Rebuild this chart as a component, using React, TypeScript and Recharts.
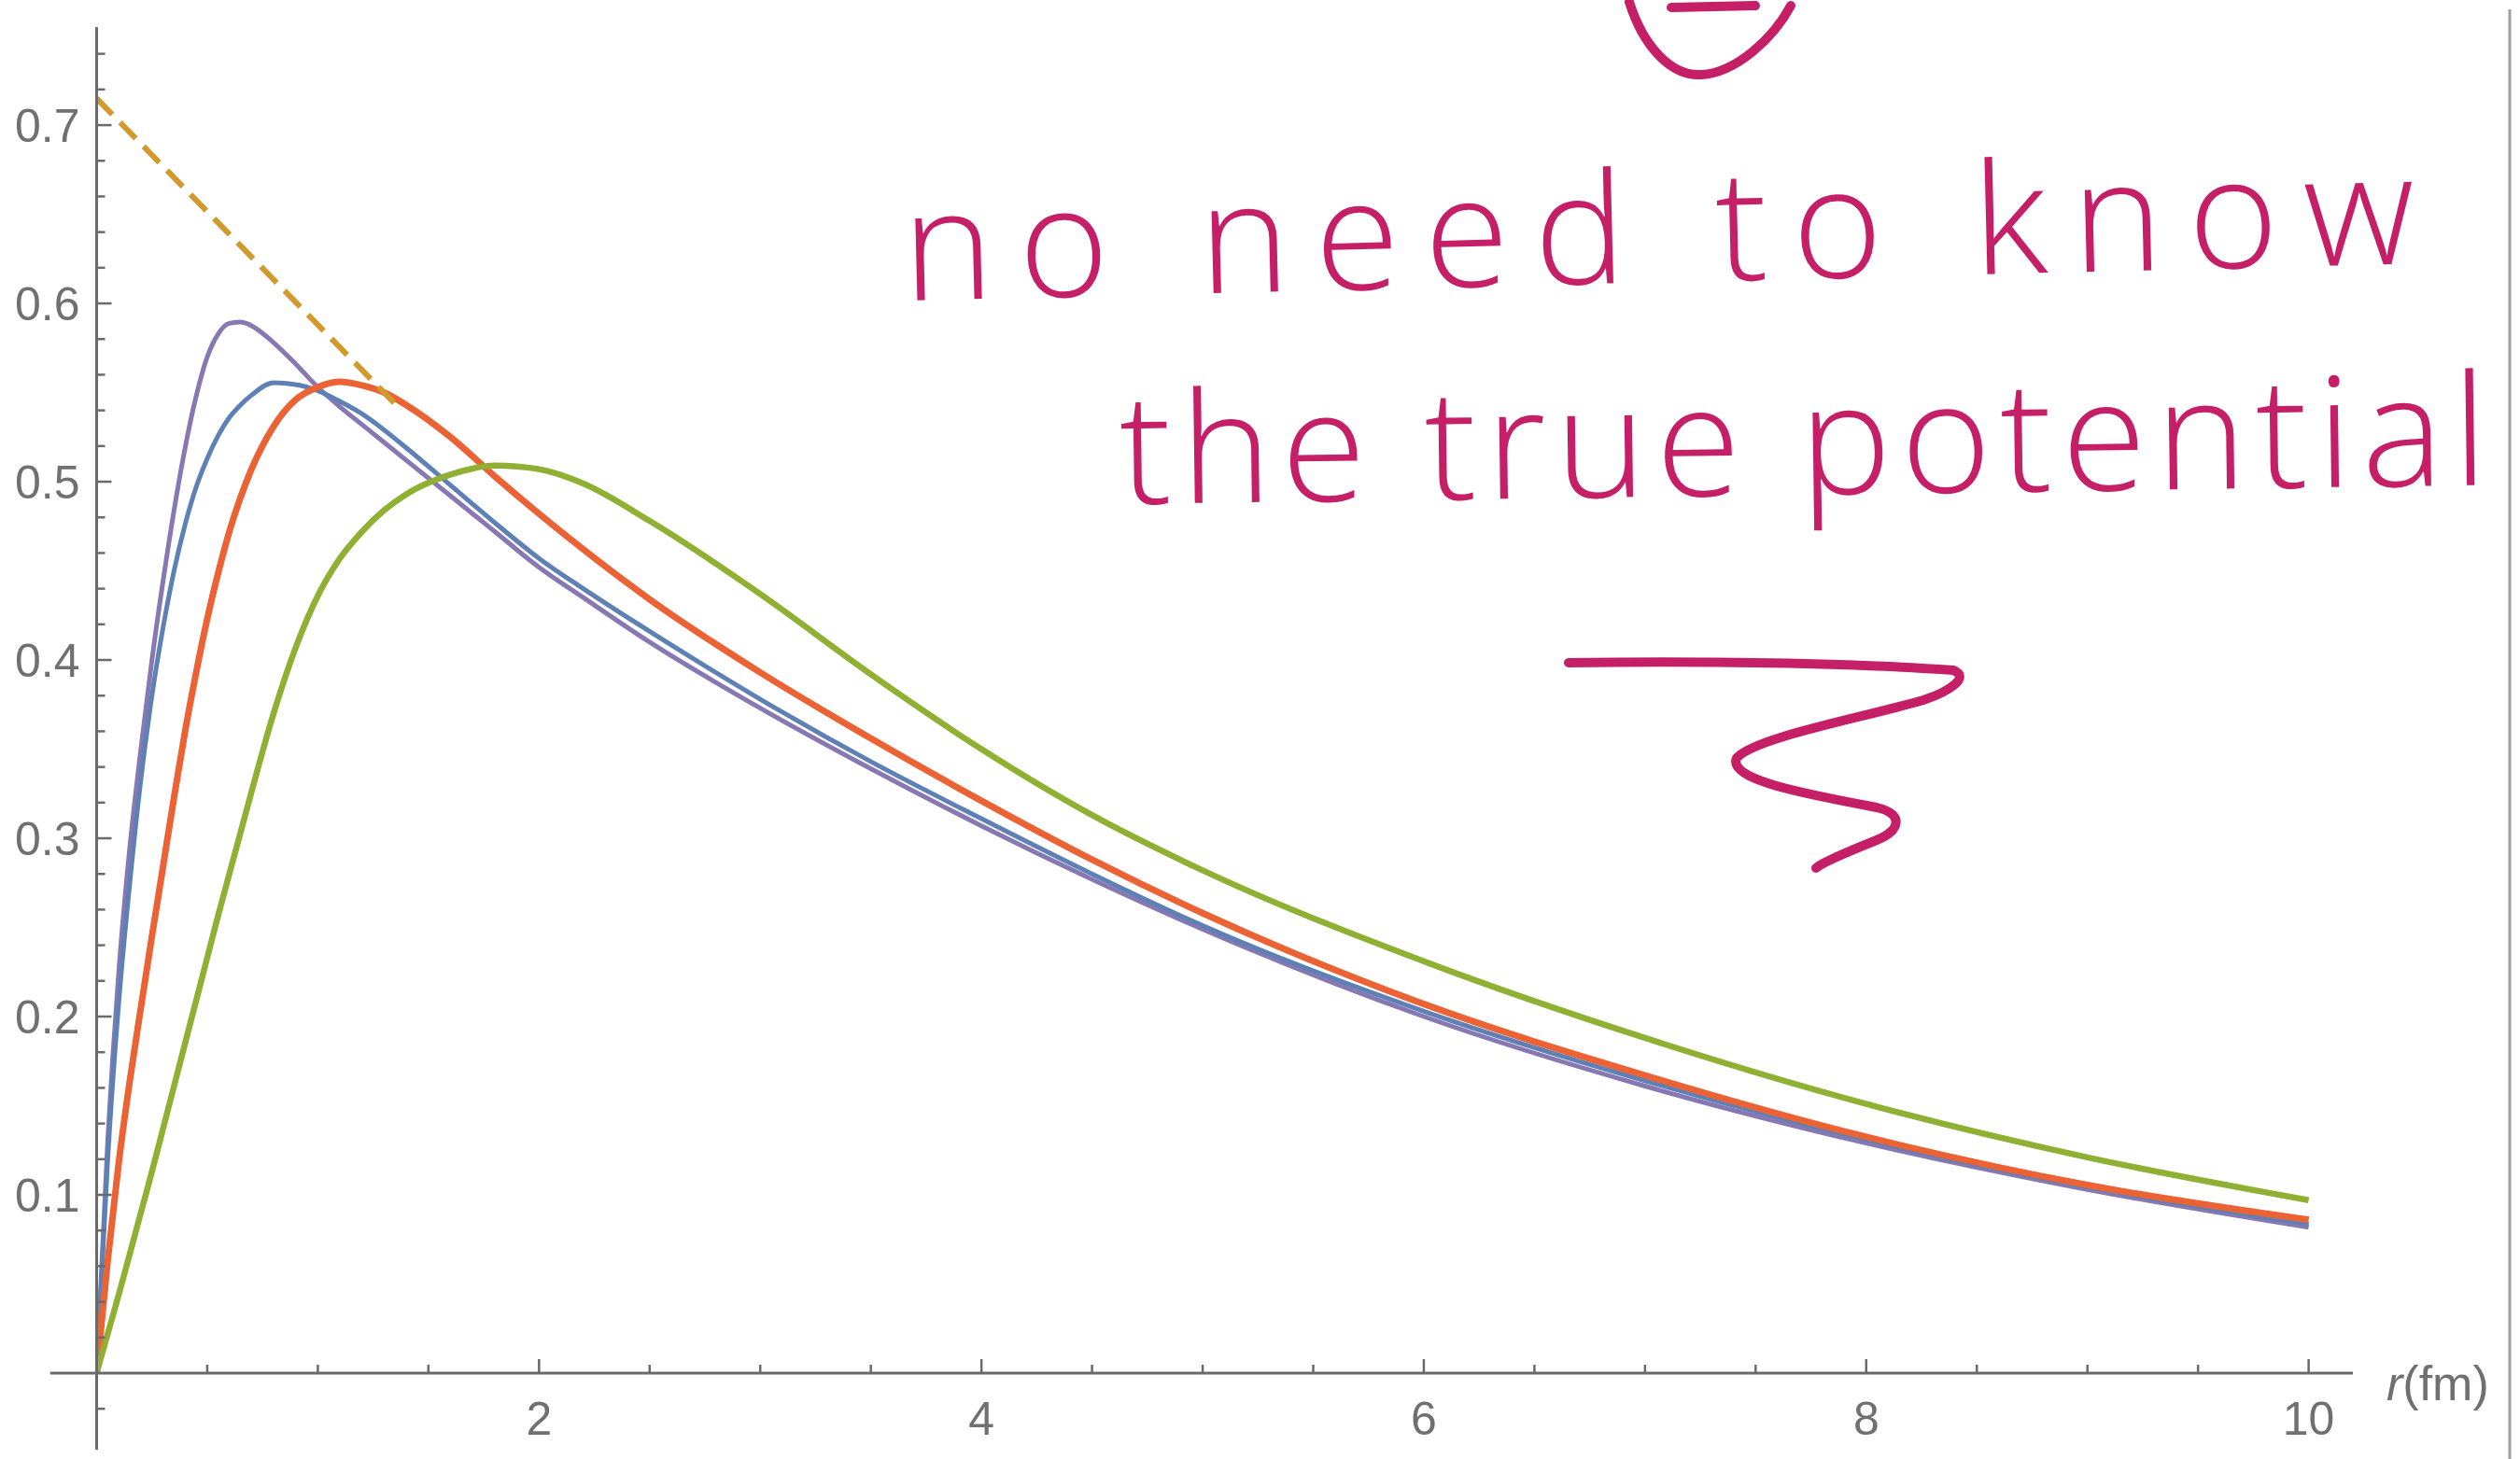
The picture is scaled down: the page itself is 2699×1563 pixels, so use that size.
import React from 'react';
import { LineChart, Line, XAxis, YAxis, ReferenceLine, Label } from 'recharts';

// radial grid in fm, shared by the four solutions
const R = [0, 0.05, 0.1, 0.15, 0.2, 0.25, 0.3, 0.35, 0.4, 0.45, 0.5, 0.55, 0.6, 0.65, 0.7, 0.8, 0.9, 1.0, 1.1, 1.2, 1.3, 1.4, 1.6, 1.8, 2.0, 2.2, 2.5, 3.0, 3.5, 4.0, 4.5, 5.0, 6.0, 7.0, 8.0, 9.0, 10.0];

const U_PURPLE = [0, 0.13, 0.225, 0.295, 0.35, 0.4, 0.444, 0.484, 0.519, 0.548, 0.57, 0.583, 0.5888, 0.5895, 0.5875, 0.578, 0.566, 0.553, 0.542, 0.532, 0.522, 0.512, 0.492, 0.472, 0.452, 0.435, 0.41, 0.373, 0.339, 0.307, 0.277, 0.249, 0.2, 0.161, 0.129, 0.103, 0.0818];
const U_BLUE = [0, 0.12, 0.208, 0.275, 0.333, 0.38, 0.418, 0.45, 0.476, 0.497, 0.513, 0.526, 0.536, 0.543, 0.5485, 0.5555, 0.5545, 0.551, 0.545, 0.538, 0.529, 0.519, 0.498, 0.477, 0.457, 0.44, 0.416, 0.378, 0.343, 0.311, 0.28, 0.251, 0.203, 0.164, 0.131, 0.1045, 0.0835];
const U_RED = [0, 0.063, 0.118, 0.164, 0.205, 0.245, 0.284, 0.323, 0.36, 0.393, 0.423, 0.449, 0.472, 0.491, 0.507, 0.531, 0.546, 0.553, 0.556, 0.554, 0.55, 0.543, 0.525, 0.503, 0.482, 0.462, 0.434, 0.393, 0.356, 0.321, 0.288, 0.258, 0.207, 0.167, 0.1325, 0.1055, 0.086];
const U_GREEN = [0, 0.022, 0.044, 0.067, 0.09, 0.113, 0.137, 0.161, 0.185, 0.209, 0.233, 0.257, 0.28, 0.303, 0.326, 0.37, 0.407, 0.436, 0.457, 0.472, 0.484, 0.493, 0.504, 0.509, 0.507, 0.499, 0.478, 0.437, 0.392, 0.35, 0.313, 0.282, 0.231, 0.188, 0.151, 0.121, 0.097];

// straight dashed asymptote near the origin
const DASH_R = [0, 1.37];
const DASH_U = [0.715, 0.541];

const X_TICKS = [0.5, 1, 1.5, 2, 2.5, 3, 3.5, 4, 4.5, 5, 5.5, 6, 6.5, 7, 7.5, 8, 8.5, 9, 9.5, 10];
const X_LABELS = [2, 4, 6, 8, 10];
const Y_TICKS = [-0.02, 0.02, 0.04, 0.06, 0.08, 0.1, 0.12, 0.14, 0.16, 0.18, 0.2, 0.22, 0.24, 0.26, 0.28, 0.3, 0.32, 0.34, 0.36, 0.38, 0.4, 0.42, 0.44, 0.46, 0.48, 0.5, 0.52, 0.54, 0.56, 0.58, 0.6, 0.62, 0.64, 0.66, 0.68, 0.7, 0.72, 0.74];
const Y_LABELS = [0.1, 0.2, 0.3, 0.4, 0.5, 0.6, 0.7];

const toPoints = (xs: number[], ys: number[]) => xs.map((r, i) => ({ r, u: ys[i] }));

const purple = toPoints(R, U_PURPLE);
const blue = toPoints(R, U_BLUE);
const red = toPoints(R, U_RED);
const green = toPoints(R, U_GREEN);
const dashed = toPoints(DASH_R, DASH_U);

const AXIS = '#6a6a6a';
const TEXT = '#707070';
const FONT = "'Liberation Sans', Arial, sans-serif";
const INK = '#C51F68';

const near = (list: number[], v: number) => list.some((t) => Math.abs(t - v) < 1e-6);

const XTick = ({ x, y, payload }: any) => {
  const major = near(X_LABELS, payload.value);
  return (
    <g>
      <line x1={x} x2={x} y1={y} y2={y - (major ? 15 : 9)} stroke={AXIS} strokeWidth={2.5} />
      {major && (
        <text x={x} y={y + 66} textAnchor="middle" fontSize={50} fontFamily={FONT} fill={TEXT}>
          {payload.value}
        </text>
      )}
    </g>
  );
};

const YTick = ({ x, y, payload }: any) => {
  const major = near(Y_LABELS, payload.value);
  return (
    <g>
      <line x1={x} x2={x + (major ? 16 : 9)} y1={y} y2={y} stroke={AXIS} strokeWidth={2.5} />
      {major && (
        <text x={x - 18} y={y + 18} textAnchor="end" fontSize={50} fontFamily={FONT} fill={TEXT}>
          {payload.value.toFixed(1)}
        </text>
      )}
    </g>
  );
};

const AxisName = ({ viewBox }: any) => (
  <text x={viewBox.x + viewBox.width + 36} y={viewBox.y + 29} fontSize={52} fontFamily={FONT} fill={TEXT}>
    <tspan fontStyle="italic">r</tspan>
    <tspan>(fm)</tspan>
  </text>
);

// pen notes written over the plot
const Notes = () => (
  <svg width={2699} height={1563} style={{ position: 'absolute', left: 0, top: 0, pointerEvents: 'none' }}>
    <g fill={INK} fontFamily="'Open Sans', 'DejaVu Sans', sans-serif" fontWeight={300}>
      <text x={968} y={322} fontSize={165} textLength={1620} lengthAdjust="spacing" transform="rotate(-1.4 968 322)">
        no need to know
      </text>
      <text x={1200} y={540} fontSize={165} textLength={1465} lengthAdjust="spacing" transform="rotate(-0.8 1200 540)">
        the true potential
      </text>
    </g>
    <g fill="none" stroke={INK} strokeWidth={10} strokeLinecap="round" strokeLinejoin="round">
      <path d="M1745 2 C1760 50 1790 82 1822 80 C1860 78 1900 40 1918 6" />
      <path d="M1790 8 L1880 6" />
      <path d="M1680 710 C1820 708 1980 710 2092 718 C2110 725 2090 740 2060 750 C1990 770 1880 790 1860 812 C1850 835 1930 850 2010 865 C2040 872 2035 890 2010 900 C1980 912 1950 925 1945 930" />
    </g>
    <line x1={2688} y1={10} x2={2688} y2={1563} stroke="#a0a0a0" strokeWidth={3} />
  </svg>
);

export default function App() {
  return (
    <div style={{ position: 'absolute', left: 0, top: 0, width: 2699, height: 1563, background: '#fff' }}>
      <LineChart width={2699} height={1563} margin={{ top: 29, right: 179, bottom: 32, left: 43.5 }}>
        <XAxis
          type="number"
          dataKey="r"
          domain={[0, 10.2]}
          allowDataOverflow
          ticks={X_TICKS}
          interval={0}
          height={60}
          tickSize={0}
          tickMargin={0}
          tickLine={false}
          axisLine={{ stroke: AXIS, strokeWidth: 3 }}
          tick={<XTick />}
        >
          <Label content={<AxisName />} />
        </XAxis>
        <YAxis
          type="number"
          domain={[0, 0.755]}
          allowDataOverflow
          ticks={Y_TICKS}
          interval={0}
          width={60}
          tickSize={0}
          tickMargin={0}
          tickLine={false}
          axisLine={{ stroke: AXIS, strokeWidth: 3 }}
          tick={<YTick />}
        />
        {/* axis stubs past the origin */}
        <ReferenceLine segment={[{ x: -0.21, y: 0 }, { x: 0, y: 0 }]} ifOverflow="visible" stroke={AXIS} strokeWidth={3} />
        <ReferenceLine segment={[{ x: 0, y: 0 }, { x: 0, y: -0.043 }]} ifOverflow="visible" stroke={AXIS} strokeWidth={3} />
        <Line data={purple} dataKey="u" type="monotone" stroke="#8778B3" strokeWidth={5} dot={false} isAnimationActive={false} />
        <Line data={blue} dataKey="u" type="monotone" stroke="#5E81B5" strokeWidth={5} dot={false} isAnimationActive={false} />
        <Line data={red} dataKey="u" type="monotone" stroke="#EB6235" strokeWidth={7} dot={false} isAnimationActive={false} />
        <Line data={green} dataKey="u" type="monotone" stroke="#8FB032" strokeWidth={6.5} dot={false} isAnimationActive={false} />
        <Line data={dashed} dataKey="u" type="linear" stroke="#D09A2C" strokeWidth={6} strokeDasharray="24 12" dot={false} isAnimationActive={false} />
      </LineChart>
      <Notes />
    </div>
  );
}
